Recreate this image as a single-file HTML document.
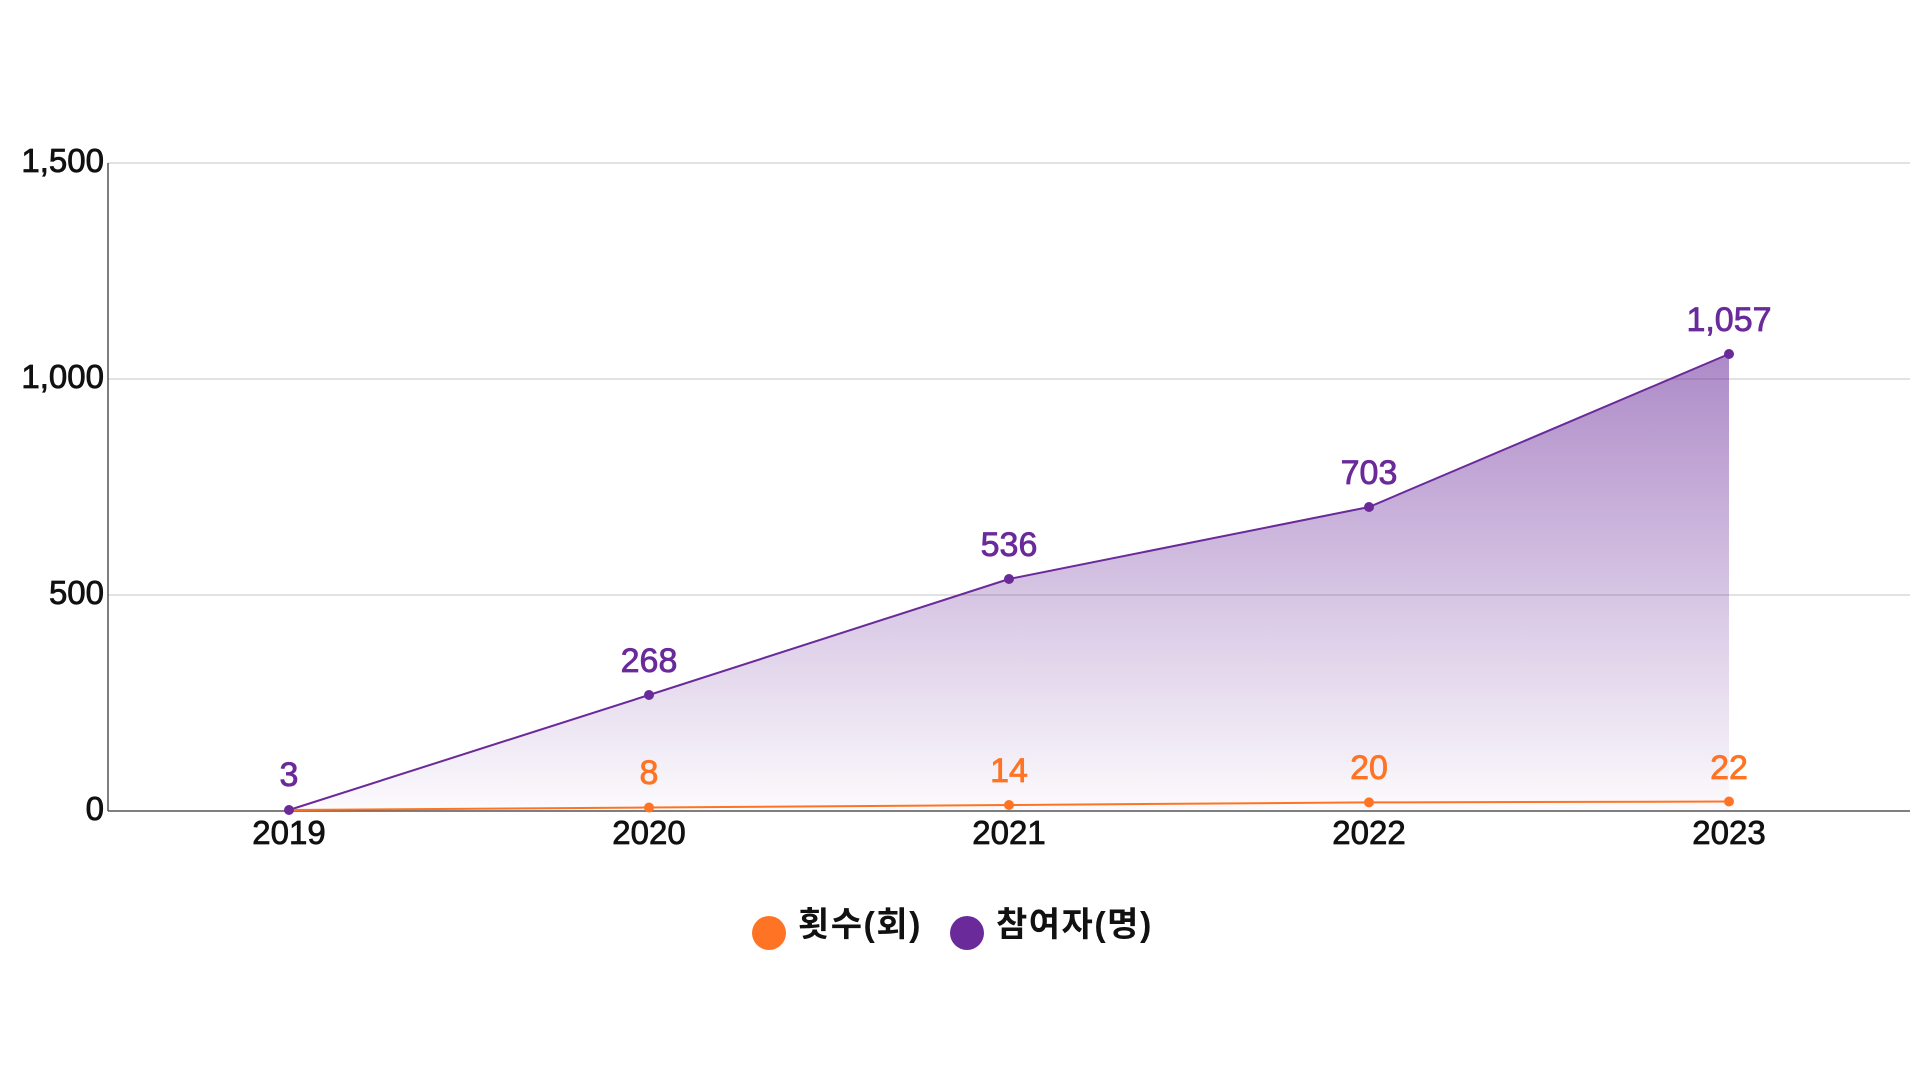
<!DOCTYPE html>
<html><head><meta charset="utf-8"><style>
html,body{margin:0;padding:0;background:#fff;width:1920px;height:1080px;overflow:hidden}
svg text{font-family:"Liberation Sans","Noto Sans CJK KR",sans-serif}
</style></head><body>
<svg width="1920" height="1080" viewBox="0 0 1920 1080" xmlns="http://www.w3.org/2000/svg">
<defs><linearGradient id="g" x1="0" y1="354" x2="0" y2="811" gradientUnits="userSpaceOnUse">
<stop offset="0" stop-color="#6a2a9a" stop-opacity="0.55"/><stop offset="1" stop-color="#6a2a9a" stop-opacity="0.02"/></linearGradient></defs>
<g stroke="#d0d0d0" stroke-width="1.2">
<line x1="108" y1="163" x2="1910" y2="163"/><line x1="108" y1="379" x2="1910" y2="379"/><line x1="108" y1="595" x2="1910" y2="595"/></g>
<line x1="108" y1="163" x2="108" y2="811" stroke="#555" stroke-width="1.5"/>
<line x1="108" y1="811" x2="1910" y2="811" stroke="#555" stroke-width="1.5"/>
<g font-size="33" fill="#111" stroke="#111" stroke-width="0.8" text-anchor="end">
<text x="104" y="172">1,500</text><text x="104" y="388">1,000</text><text x="104" y="604">500</text><text x="104" y="820">0</text></g>
<g font-size="33" fill="#111" stroke="#111" stroke-width="0.8" text-anchor="middle">
<text x="289" y="844">2019</text><text x="649" y="844">2020</text><text x="1009" y="844">2021</text><text x="1369" y="844">2022</text><text x="1729" y="844">2023</text></g>
<polygon points="289,810 649,695 1009,579 1369,507 1729,354 1729,811 289,811" fill="url(#g)"/>
<polyline points="289,810 649,695 1009,579 1369,507 1729,354" fill="none" stroke="#6a2a9a" stroke-width="2"/>
<polyline points="289,810 649,807.5 1009,805 1369,802.4 1729,801.5" fill="none" stroke="#ff7424" stroke-width="2"/>
<g fill="#6a2a9a"><circle cx="289" cy="810" r="5"/><circle cx="649" cy="695" r="5"/><circle cx="1009" cy="579" r="5"/><circle cx="1369" cy="507" r="5"/><circle cx="1729" cy="354" r="5"/></g>
<g fill="#ff7424"><circle cx="649" cy="807.5" r="5"/><circle cx="1009" cy="805" r="5"/><circle cx="1369" cy="802.4" r="5"/><circle cx="1729" cy="801.5" r="5"/></g>
<g font-size="34" fill="#6a2a9a" stroke="#6a2a9a" stroke-width="0.8" text-anchor="middle">
<text x="289" y="786">3</text><text x="649" y="672">268</text><text x="1009" y="556">536</text><text x="1369" y="484">703</text><text x="1729" y="331">1,057</text></g>
<g font-size="34" fill="#ff7424" stroke="#ff7424" stroke-width="0.8" text-anchor="middle">
<text x="649" y="784">8</text><text x="1009" y="782">14</text><text x="1369" y="779">20</text><text x="1729" y="779">22</text></g>
<circle cx="769" cy="933" r="17" fill="#ff7424"/>
<circle cx="967" cy="933" r="17" fill="#6a2a9a"/>
<g font-size="34" font-weight="bold" fill="#111" letter-spacing="1.5">
<text x="798" y="936">횟수(회)</text><text x="996" y="936">참여자(명)</text></g>
</svg>
</body></html>
